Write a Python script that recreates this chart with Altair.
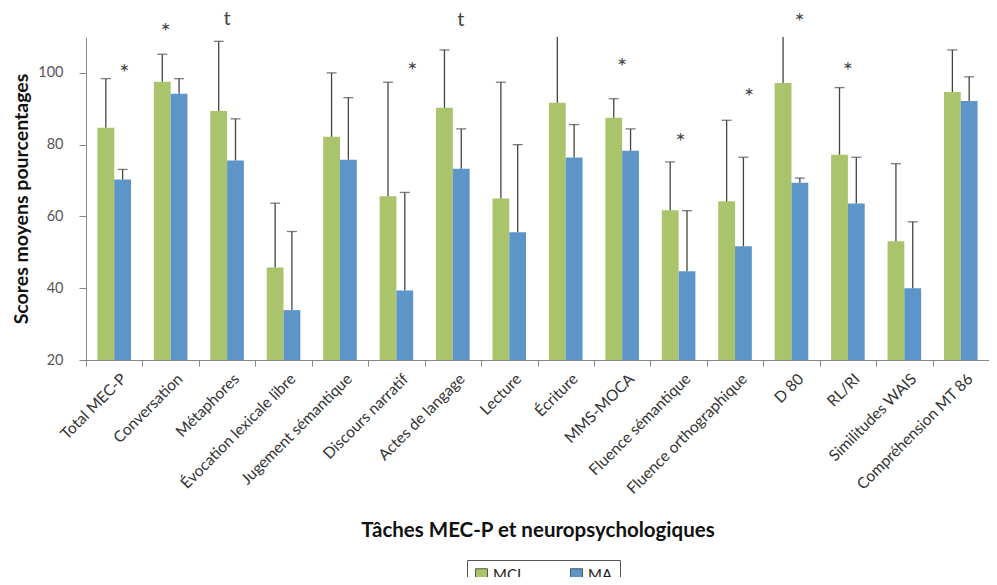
import altair as alt
import pandas as pd

TASKS = ["Total MEC-P", "Conversation", "Métaphores", "Évocation lexicale libre",
         "Jugement sémantique", "Discours narratif", "Actes de langage", "Lecture",
         "Écriture", "MMS-MOCA", "Fluence sémantique", "Fluence orthographique",
         "D 80", "RL/RI", "Similitudes WAIS", "Compréhension MT 86"]
MCI_MEAN = [84.7, 97.5, 89.4, 45.8, 82.2, 65.6, 90.3, 65.0, 91.7, 87.5, 61.7, 64.2, 97.2, 77.2, 53.1, 94.7]
MCI_UPPER = [98.4, 105.2, 108.8, 63.7, 100.0, 97.4, 106.4, 97.4, 114.0, 92.8, 75.2, 86.8, 114.0, 95.9, 74.7, 106.4]
MA_MEAN = [70.3, 94.2, 75.6, 33.9, 75.8, 39.4, 73.3, 55.6, 76.4, 78.3, 44.7, 51.7, 69.4, 63.6, 40.0, 92.2]
MA_UPPER = [73.1, 98.4, 87.2, 55.8, 93.1, 66.7, 84.4, 80.0, 85.6, 84.4, 61.6, 76.5, 70.7, 76.5, 58.5, 98.9]
GROUPS = ["MCI", "MA"]
COLORS = ["#A9C46B", "#5E95C9"]

ANNOT_TASK = ["Total MEC-P", "Conversation", "Métaphores", "Discours narratif", "Actes de langage",
              "MMS-MOCA", "Fluence sémantique", "Fluence orthographique", "D 80", "RL/RI"]
ANNOT_TEXT = ["*", "*", "t", "*", "t", "*", "*", "*", "*", "*"]
ANNOT_Y = [101.1, 112.5, 115.0, 101.7, 114.7, 102.8, 81.9, 94.4, 115.3, 101.7]
ANNOT_DX = [10, -5, 0, 16, 8, 0, 2, 14, 8, 0]  # horizontal nudge (style)

rows = []
for t, m, u in zip(TASKS, MCI_MEAN, MCI_UPPER):
    rows.append({"task": t, "group": "MCI", "mean": m, "upper": u})
for t, m, u in zip(TASKS, MA_MEAN, MA_UPPER):
    rows.append({"task": t, "group": "MA", "mean": m, "upper": u})
df = pd.DataFrame(rows)

ann = pd.DataFrame({"task": ANNOT_TASK, "txt": ANNOT_TEXT, "y": ANNOT_Y, "dx": ANNOT_DX})

FONT = "Lato"
xscale = alt.Scale(domain=TASKS, paddingInner=0, paddingOuter=0)
yscale = alt.Scale(domain=[20, 110], nice=False, zero=False)
offscale = alt.Scale(domain=GROUPS, paddingInner=0, paddingOuter=0.68)

XAXIS = alt.Axis(title="Tâches MEC-P et neuropsychologiques", labelAngle=-45,
                 labelAlign="right", labelBaseline="middle", ticks=True, tickBand="extent",
                 tickSize=6, tickColor="#888", labelPadding=10, labelOffset=9,
                 labelFontSize=15.5, labelFont=FONT, labelColor="#333", titleFont=FONT,
                 titleFontSize=20.5, titleFontWeight="bold", titleColor="#111",
                 titlePadding=24, domainColor="#888", labelLimit=300)
YAXIS = alt.Axis(title="Scores moyens pourcentages", values=[20, 40, 60, 80, 100],
                 grid=False, ticks=True, tickSize=7, tickColor="#888", labelPadding=16,
                 labelFontSize=14.5, labelFont=FONT, labelColor="#555", titleFont=FONT,
                 titleFontSize=19.5, titleFontWeight="bold", titleColor="#111",
                 titlePadding=6, domainColor="#888")

color = alt.Color("group:N", scale=alt.Scale(domain=GROUPS, range=COLORS),
                  legend=alt.Legend(title=None, orient="none", legendX=381, legendY=523,
                                    direction="horizontal", symbolType="square",
                                    symbolSize=144, symbolStrokeColor="#555",
                                    symbolStrokeWidth=1, labelFontSize=15,
                                    labelFont=FONT, labelColor="#222",
                                    strokeColor="#555", padding=7, columnPadding=46,
                                    labelOffset=4))

X = alt.X("task:N", scale=xscale, sort=TASKS, axis=XAXIS)
XOFF = alt.XOffset("group:N", scale=offscale, sort=GROUPS)

bars = alt.Chart(df).mark_bar().encode(
    x=X, xOffset=XOFF,
    y=alt.Y("mean:Q", scale=yscale, axis=YAXIS),
    y2=alt.datum(20),
    color=color,
)

err = alt.Chart(df).mark_rule(clip=True, color="#444", strokeWidth=1.3).encode(
    x=X, xOffset=XOFF,
    y=alt.Y("mean:Q", scale=yscale, axis=YAXIS),
    y2="upper:Q",
)

caps = alt.Chart(df).mark_tick(clip=True, color="#444", orient="horizontal",
                               size=10, thickness=1.3).encode(
    x=X, xOffset=XOFF,
    y=alt.Y("upper:Q", scale=yscale, axis=YAXIS),
)

texts = alt.Chart(ann).mark_text(font=FONT, color="#444", baseline="middle",
                                 fontSize=alt.expr("datum.txt == '*' ? 24 : 20"),
                                 dy=alt.expr("datum.txt == '*' ? 5 : 0"),
                                 dx=alt.expr("datum.dx")).encode(
    x=X,
    y=alt.Y("y:Q", scale=yscale, axis=YAXIS),
    text="txt:N",
)

chart = alt.layer(bars, err, caps, texts).properties(
    width=903, height=323,
    autosize=alt.AutoSizeParams(type="none"),
    padding={"left": 78, "top": 29, "right": 0, "bottom": 217},
).configure_view(stroke=None).configure_axisY(labelPadding=16, tickSize=7, titlePadding=6)

chart.save("out.html", embed_options={"renderer": "svg", "actions": False})
